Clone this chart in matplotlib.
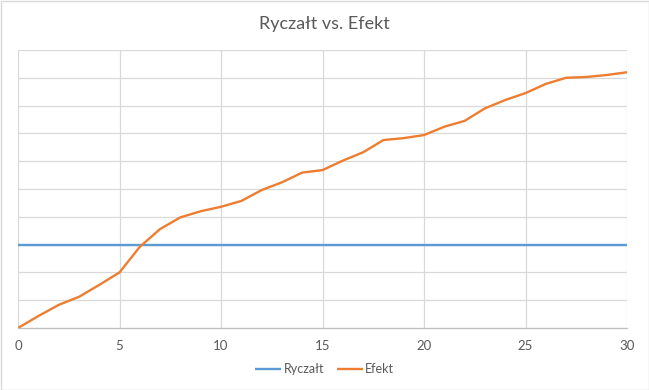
import numpy as np
import matplotlib.pyplot as plt
from matplotlib.patches import Rectangle

plt.rcParams['font.family'] = ['Lato', 'DejaVu Sans']

# dane
x = list(range(0, 31))
ryczalt = [3] * 31
efekt = [0.0, 0.43, 0.83, 1.12, 1.55, 2.0, 2.92, 3.56, 3.98, 4.2, 4.36,
         4.57, 4.96, 5.24, 5.59, 5.68, 6.02, 6.32, 6.76, 6.83, 6.94,
         7.24, 7.45, 7.9, 8.2, 8.45, 8.78, 9.0, 9.03, 9.1, 9.2]
xticks = [0, 5, 10, 15, 20, 25, 30]

txt = '#595959'
grid = '#D9D9D9'

fig = plt.figure(figsize=(6.49, 3.90), dpi=100)
ax = fig.add_axes([18/649, 1-328/390, (627-18)/649, (328-50)/390])

ax.plot(x, ryczalt, color='#5B9BD5', lw=1.7, label='Ryczałt', solid_capstyle='butt')
ax.plot(x, efekt, color='#ED7D31', lw=1.7, label='Efekt', solid_capstyle='butt')

ax.set_xlim(0, 30)
ax.set_ylim(0, 10)
ax.set_xticks(xticks)
ax.set_yticks(np.arange(0, 11, 1))
ax.set_yticklabels([])
ax.tick_params(axis='y', length=0)
ax.tick_params(axis='x', length=0, pad=9, labelsize=9.5, labelcolor=txt)
ax.grid(True, color=grid, lw=0.9)
ax.set_axisbelow(True)
for s in ['top', 'right', 'left']:
    ax.spines[s].set_visible(False)
ax.spines['bottom'].set_color('#BFBFBF')
ax.spines['bottom'].set_linewidth(0.9)

fig.text(0.5, 1-24/390, 'Ryczałt vs. Efekt', ha='center', va='center',
         fontsize=13, color=txt)

fig.legend(loc='center', bbox_to_anchor=(0.5, 1-369/390), ncol=2, frameon=False,
           fontsize=9, labelcolor=txt, handlelength=2.1, handletextpad=0.2,
           columnspacing=1.0)

fig.patches.append(Rectangle((0.5/649, 0.5/390), 1-1/649, 1-1/390,
                             transform=fig.transFigure, fill=False,
                             edgecolor=grid, lw=1))

fig.savefig('out.png', dpi=100)
